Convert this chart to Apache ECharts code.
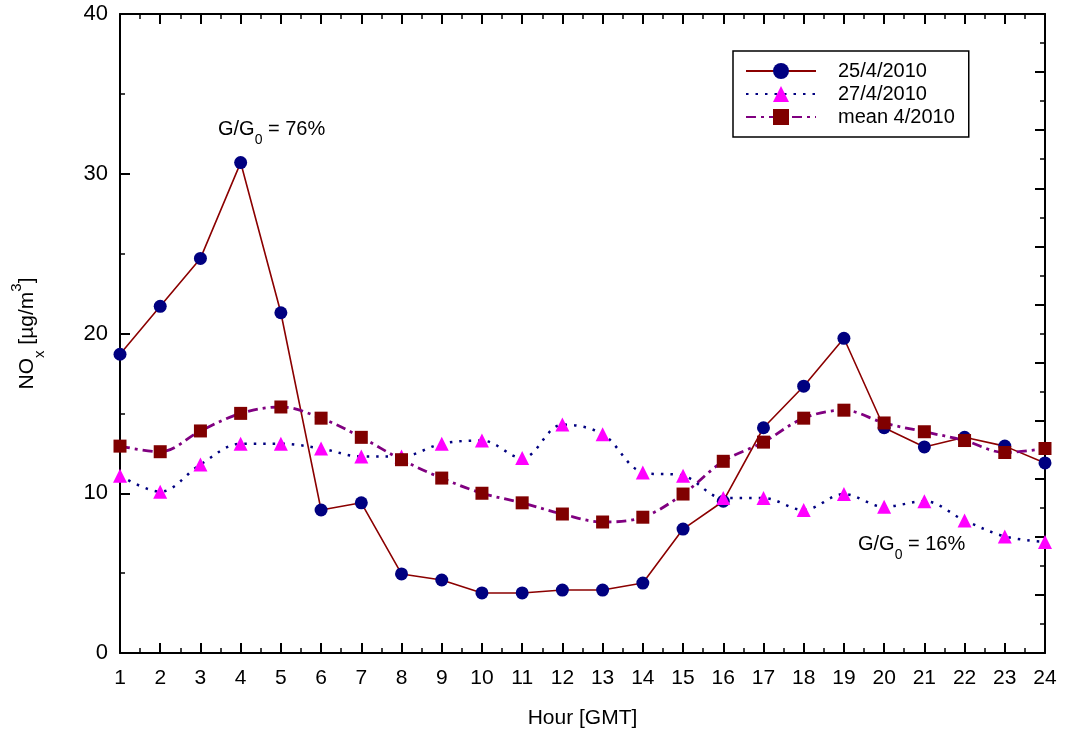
<!DOCTYPE html>
<html>
<head>
<meta charset="utf-8">
<script src="https://cdn.jsdelivr.net/npm/echarts@6/dist/echarts.min.js"></script>
<style>html,body{margin:0;padding:0;background:#fff}#c{width:1065px;height:736px}</style>
</head>
<body>
<div id="c"></div>
<script>
const hours = [1,2,3,4,5,6,7,8,9,10,11,12,13,14,15,16,17,18,19,20,21,22,23,24];
const xTickLabels = hours.map(String);
const day25 = [18.7,21.7,24.7,30.7,21.3,8.95,9.4,4.95,4.57,3.76,3.76,3.94,3.94,4.38,7.76,9.5,14.1,16.7,19.7,14.1,12.9,13.5,12.95,11.9];
const day27 = [11.1,10.1,11.8,13.1,13.1,12.8,12.3,12.3,13.1,13.3,12.2,14.3,13.7,11.3,11.1,9.7,9.7,8.95,9.95,9.15,9.5,8.3,7.3,6.95];
const meanApr = [12.95,12.6,13.9,15.0,15.4,14.7,13.5,12.1,10.95,10.0,9.4,8.7,8.2,8.5,9.95,12.0,13.2,14.7,15.2,14.4,13.85,13.3,12.55,12.8];
const seriesNames = ['25/4/2010','27/4/2010','mean 4/2010'];

const pairs = arr => hours.map((h,i)=>[h,arr[i]]);
const FONT = '"Liberation Sans", Arial, sans-serif';

const chart = echarts.init(document.getElementById('c'));
const tickStyle = {show:true, inside:true, length:10, lineStyle:{color:'#000', width:2}};
const minorStyle = {show:true, splitNumber:2, length:5, lineStyle:{color:'#000', width:1.5}};
const annRich = {
  a:{fontSize:20, fontFamily:FONT, color:'#000', lineHeight:24},
  sub:{fontSize:14, fontFamily:FONT, color:'#000', verticalAlign:'bottom', lineHeight:24, padding:[0,0,-6,0]}
};
chart.setOption({
  animation:false,
  backgroundColor:'#fff',
  grid:{left:120, right:20, top:14, bottom:83, outerBoundsMode:'none', containLabel:false},
  xAxis:[{
    type:'value', min:1, max:24, interval:1, position:'bottom',
    axisLine:{show:true, onZero:false, lineStyle:{color:'#000', width:2}},
    axisTick:tickStyle, minorTick:minorStyle, splitLine:{show:false}, minorSplitLine:{show:false},
    axisLabel:{color:'#000', fontSize:21, fontFamily:FONT, margin:15,
      formatter:v=>xTickLabels[hours.indexOf(v)] ?? ''},
    name:'Hour [GMT]', nameLocation:'middle', nameGap:55,
    nameTextStyle:{color:'#000', fontSize:21, fontFamily:FONT}
  },{
    type:'value', min:1, max:24, interval:1, position:'top',
    axisLine:{show:true, onZero:false, lineStyle:{color:'#000', width:2}},
    axisTick:tickStyle, minorTick:minorStyle, splitLine:{show:false}, axisLabel:{show:false}
  }],
  yAxis:[{
    type:'value', min:0, max:40, interval:10, position:'left',
    axisLine:{show:true, onZero:false, lineStyle:{color:'#000', width:2}},
    axisTick:tickStyle, minorTick:minorStyle, splitLine:{show:false},
    axisLabel:{color:'#000', fontSize:22, fontFamily:FONT, margin:12},
    name:'{a|NO}{sub|x}{a| [µg/m}{sup|3}{a|]}', nameLocation:'middle', nameGap:80, nameRotate:90,
    nameTextStyle:{color:'#000', fontFamily:FONT, rich:{
      a:{fontSize:21, fontFamily:FONT, color:'#000', lineHeight:26},
      sub:{fontSize:15, fontFamily:FONT, color:'#000', verticalAlign:'bottom', lineHeight:26, padding:[0,0,-7,0]},
      sup:{fontSize:15, fontFamily:FONT, color:'#000', verticalAlign:'top', lineHeight:26, padding:[-5,0,0,0]}
    }}
  },{
    type:'value', min:0, max:11, interval:1, position:'right',
    axisLine:{show:true, onZero:false, lineStyle:{color:'#000', width:2}},
    axisTick:tickStyle, minorTick:minorStyle, splitLine:{show:false}, axisLabel:{show:false}
  }],
  legend:{
    orient:'vertical', left:733, top:51,
    padding:[10,14,10,12], itemWidth:70, itemHeight:20, itemGap:3,
    borderColor:'#000', borderWidth:1.5, backgroundColor:'#fff',
    textStyle:{color:'#000', fontSize:20, fontFamily:FONT, lineHeight:20, padding:[0,0,0,17]},
    data:seriesNames
  },
  series:[{
    name:seriesNames[0], type:'line', data:pairs(day25),
    symbol:'circle', symbolSize:13,
    itemStyle:{color:'#000080'},
    lineStyle:{color:'#8B0000', width:1.6, type:'solid'}
  },{
    name:seriesNames[1], type:'line', data:pairs(day27), smooth:0.35,
    symbol:'triangle', symbolSize:14,
    itemStyle:{color:'#FF00FF'},
    lineStyle:{color:'#000080', width:2.5, type:[2.5,7]}
  },{
    name:seriesNames[2], type:'line', data:pairs(meanApr), smooth:0.35,
    symbol:'rect', symbolSize:13,
    itemStyle:{color:'#800000'},
    lineStyle:{color:'#800080', width:2.8, type:[10,5,3,5]}
  }],
  graphic:[{
    type:'text', left:218, top:119,
    style:{text:'{a|G/G}{sub|0}{a| = 76%}', fill:'#000', rich:annRich}
  },{
    type:'text', left:858, top:534,
    style:{text:'{a|G/G}{sub|0}{a| = 16%}', fill:'#000', rich:annRich}
  }]
});
</script>
</body>
</html>
